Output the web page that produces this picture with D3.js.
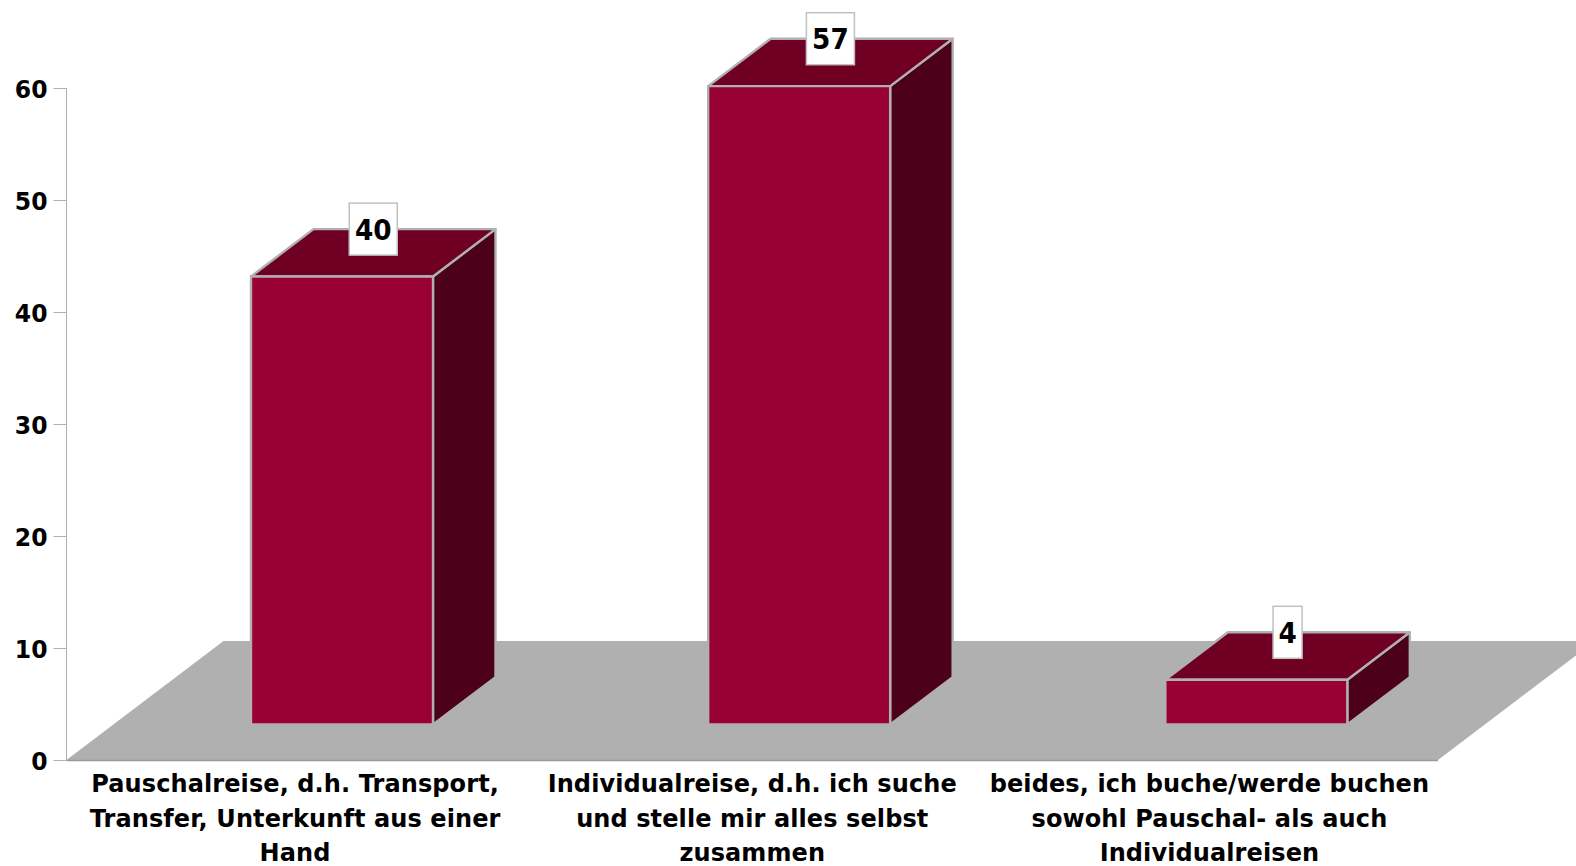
<!DOCTYPE html>
<html><head><meta charset="utf-8">
<script src="https://cdn.jsdelivr.net/npm/d3@7/dist/d3.min.js"></script>
<style>html,body{margin:0;padding:0;background:#fff;overflow:hidden}svg{display:block}text{font-family:"DejaVu Sans";font-weight:bold;fill:#000}</style>
</head><body><svg id="c" width="1576" height="866"></svg>
<script>
const categories = ["Pauschalreise, d.h. Transport,|Transfer, Unterkunft aus einer|Hand","Individualreise, d.h. ich suche|und stelle mir alles selbst|zusammen","beides, ich buche/werde buchen|sowohl Pauschal- als auch|Individualreisen"];
const values = [40,57,4];
const yTicks = [0,10,20,30,40,50,60];

const svg = d3.select("#c");
const left=66.5, right=1438, floorFront=760, tall=672;
const depthFloor={dx:157,dy:119}, depth={dx:62.5,dy:47.4}, base=724.5;
const GRAY="#b0b0b0";
const x=d3.scaleBand().domain(categories).range([left,right]);
const y=d3.scaleLinear().domain([0,60]).range([floorFront,floorFront-tall]);
const h=v=>y(0)-y(v);
const barLeft=c=>x(c)+184.5, barW=182;

// floor
svg.append("polygon").attr("points",[[left,floorFront],[left+depthFloor.dx,floorFront-depthFloor.dy],[right+depthFloor.dx,floorFront-depthFloor.dy],[right,floorFront]].join(" ")).attr("fill",GRAY);
svg.append("line").attr("x1",left).attr("x2",right).attr("y1",floorFront+.5).attr("y2",floorFront+.5).attr("stroke","#999").attr("stroke-width",1.5);

// axis
const ax=svg.append("g").attr("transform",`translate(${left},0)`).call(d3.axisLeft(y).tickValues(yTicks).tickSize(13).tickPadding(5));
ax.select(".domain").attr("stroke",GRAY).attr("d",`M0,${y(60)}V${y(0)}`);
ax.selectAll(".tick line").attr("stroke",GRAY);
ax.selectAll(".tick text").attr("font-family",null).attr("font-size",null).style("font-size","25px")
  .attr("x",0).attr("dy",null).attr("y",0).attr("transform","translate(-19,9) scale(.94,1)");

// bars
const data=categories.map((c,i)=>({c,v:values[i]}));
const g=svg.selectAll("g.bar").data(data).join("g").attr("class","bar");
const common=s=>s.attr("stroke",GRAY).attr("stroke-width",2.4).attr("stroke-linejoin","round");
g.append("polygon").attr("fill","#4d001a").call(common).attr("points",d=>{const a=barLeft(d.c)+barW,t=base-h(d.v);return [[a,t],[a+depth.dx,t-depth.dy],[a+depth.dx,base-depth.dy],[a,base]].join(" ")});
g.append("polygon").attr("fill","#6f0024").call(common).attr("points",d=>{const a=barLeft(d.c),t=base-h(d.v);return [[a,t],[a+depth.dx,t-depth.dy],[a+barW+depth.dx,t-depth.dy],[a+barW,t]].join(" ")});
g.append("rect").attr("fill","#990033").call(common).attr("x",d=>barLeft(d.c)).attr("y",d=>base-h(d.v)).attr("width",barW).attr("height",d=>h(d.v));

// value labels
const lab=svg.selectAll("g.lab").data(data).join("g").attr("class","lab").attr("transform",d=>`translate(${barLeft(d.c)+barW/2+depth.dx/2},${base-h(d.v)-depth.dy})`);
lab.append("rect").attr("fill","#fff").attr("stroke","#c0c0c0").attr("stroke-width",1.5).attr("y",-26).attr("height",52).attr("x",d=>d.v>9?-24:-14.5).attr("width",d=>d.v>9?48:29);
lab.append("text").attr("text-anchor","middle").attr("transform","translate(0,10.5) scale(.94,1)").style("font-size","28px").text(d=>d.v);

// category labels
svg.selectAll("text.cat").data(categories).join("text").attr("class","cat").attr("text-anchor","middle").style("font-size","24px").style("letter-spacing","0.1px")
 .each(function(c){d3.select(this).selectAll("tspan").data(c.split("|")).join("tspan").attr("x",x(c)+x.bandwidth()/2).attr("y",(d,i)=>792+i*34.5).text(d=>d)});
</script></body></html>
